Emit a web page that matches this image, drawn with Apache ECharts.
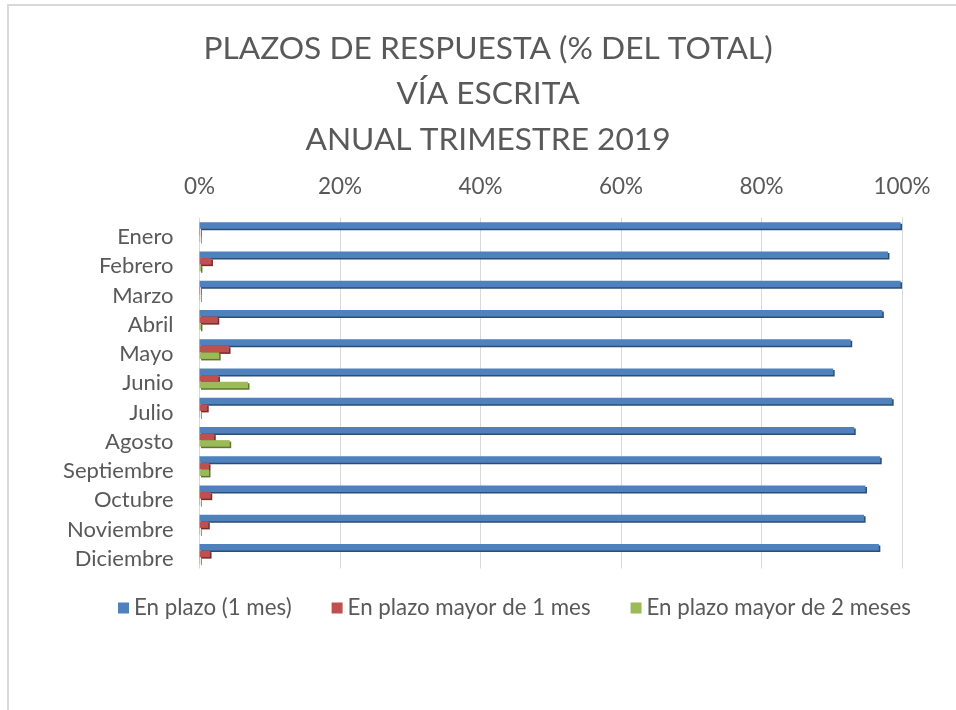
<!DOCTYPE html>
<html>
<head>
<meta charset="utf-8">
<script src="https://cdn.jsdelivr.net/npm/echarts@6/dist/echarts.min.js"></script>
<style>
html,body{margin:0;padding:0;background:#fff;}
#frame{position:absolute;left:7px;top:4px;width:1000px;height:800px;border-left:2px solid #d9d9d9;border-top:2px solid #d9d9d9;}
#chart{position:absolute;left:0;top:0;width:956px;height:710px;}
</style>
</head>
<body>
<div id="frame"></div>
<div id="chart"></div>
<script>
const categories = ['Enero','Febrero','Marzo','Abril','Mayo','Junio','Julio','Agosto','Septiembre','Octubre','Noviembre','Diciembre'];
const seriesNames = ['En plazo (1 mes)','En plazo mayor de 1 mes','En plazo mayor de 2 meses'];
const enPlazo = [99.8, 98.0, 99.8, 97.2, 92.7, 90.2, 98.6, 93.2, 96.9, 94.8, 94.6, 96.7];
const mayor1 = [0.1, 1.7, 0.1, 2.6, 4.2, 2.7, 1.1, 2.1, 1.35, 1.6, 1.25, 1.5];
const mayor2 = [0.1, 0.2, 0.1, 0.2, 2.8, 6.9, 0.1, 4.3, 1.35, 0.1, 0.1, 0.1];
const xTicks = [0, 20, 40, 60, 80, 100];
const titleLines = ['PLAZOS DE RESPUESTA (% DEL TOTAL)', 'VÍA ESCRITA', 'ANUAL TRIMESTRE 2019'];

const colors = ['#4f81bd', '#c0504d', '#9bbb59'];
const shadows = ['#2c4d75', '#772c2a', '#5f7530'];
const FONT = 'Lato';

const chart = echarts.init(document.getElementById('chart'));
const values = [enPlazo, mayor1, mayor2];
chart.setOption({
  animation: false,
  title: {
    text: titleLines.join('\n'),
    left: 483,
    textAlign: 'center',
    top: 21,
    textStyle: {fontFamily: FONT, fontWeight: 400, fontSize: 31.7, color: '#595959', lineHeight: 45.5, align: 'center'}
  },
  legend: {
    top: 592,
    left: 113,
    itemWidth: 11,
    itemHeight: 11,
    itemGap: 40,
    icon: 'rect',
    textStyle: {fontFamily: FONT, fontSize: 22.3, color: '#595959'},
    data: seriesNames
  },
  grid: {left: 199.5, right: 54, top: 217.5, height: 351, containLabel: false},
  xAxis: {
    type: 'value', position: 'top', min: xTicks[0], max: xTicks[xTicks.length-1], interval: 20,
    axisLine: {show: false}, axisTick: {show: false},
    splitLine: {lineStyle: {color: '#d9d9d9', width: 1}},
    axisLabel: {formatter: '{value}%', fontFamily: FONT, fontSize: 22.5, color: '#595959', margin: 19.5}
  },
  yAxis: {
    type: 'category', data: categories, inverse: true,
    axisLine: {show: false}, axisTick: {show: false},
    axisLabel: {fontFamily: FONT, fontSize: 22, color: '#595959', margin: 26, verticalAlign: 'top', lineHeight: 10}
  },
  series: values.map((v, i) => ({
    name: seriesNames[i], type: 'bar', data: v,
    barGap: '0%', barCategoryGap: '33%',
    itemStyle: {color: colors[i], shadowColor: shadows[i], shadowOffsetX: 1.5, shadowOffsetY: 1.5, shadowBlur: 0}
  }))
});
</script>
</body>
</html>
